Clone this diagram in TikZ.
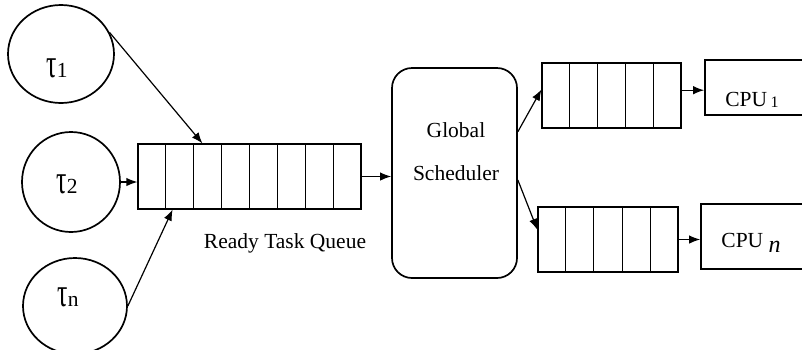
\documentclass[tikz,border=0pt]{standalone}
\usepackage{fontspec}
\setmainfont{Liberation Serif}
\usetikzlibrary{arrows.meta,calc,shapes.geometric}
\newcommand{\tautall}{\scalebox{1.2}[1.9]{τ}}
\begin{document}
\begin{tikzpicture}[x=1pt,y=-1pt,
  every node/.style={font=\fontsize{21.5}{24}\selectfont},
  task/.style={draw,ellipse,line width=1.7pt,inner sep=0pt},
  queuebox/.style={draw,line width=1.2pt,inner sep=0pt,minimum height=65pt},
  cpubox/.style={draw,line width=1.7pt,inner sep=0pt,minimum width=200pt},
  arr/.style={line width=1.2pt,-{Latex[length=11pt,width=8.5pt]}},
  lbl/.style={inner sep=0pt}]
\useasboundingbox (0,0) rectangle (802,349);
\clip (0,0) rectangle (802,349);

% task circles
\node[task,minimum width=106pt,minimum height=98pt] (t1) at (61,54) {};
\node[task,minimum width=98pt,minimum height=100pt] (t2) at (71,182) {};
\node[task,minimum width=104pt,minimum height=96pt] (tn) at (75,306) {};
\node[lbl,anchor=base] (t1l) at (57,77) {\tautall1};
\node[lbl,anchor=base] (t2l) at (67,193) {\tautall2};
\node[lbl,anchor=base] (tnl) at (68,306) {\tautall n};

% ready task queue with eight slots
\node[queuebox,minimum width=223pt] (q) at (249.5,176.5) {};
\foreach \i in {1,...,7}
  \draw[line width=1.2pt] ($(q.north west)!\i/8!(q.north east)$) -- ($(q.south west)!\i/8!(q.south east)$);
\node[lbl] (ql) at (285,243) {Ready Task Queue};

% global scheduler
\node[draw,line width=1.7pt,rounded corners=20pt,minimum width=125pt,minimum height=210pt] (gs) at (454.5,173) {};
\node[lbl] (gs1) at (456,130) {Global};
\node[lbl] (gs2) at (456,173) {Scheduler};

% per-processor queues
\node[queuebox,minimum width=139pt] (uq) at (611.5,95.5) {};
\foreach \i in {1,...,4}
  \draw[line width=1.2pt] ($(uq.north west)!\i/5!(uq.north east)$) -- ($(uq.south west)!\i/5!(uq.south east)$);
\node[queuebox,minimum width=140pt] (lq) at (608,239.5) {};
\foreach \i in {1,...,4}
  \draw[line width=1.2pt] ($(lq.north west)!\i/5!(lq.north east)$) -- ($(lq.south west)!\i/5!(lq.south east)$);

% processors
\node[cpubox,minimum height=55pt] (c1) at (805,87.5) {};
\node[cpubox,minimum height=65pt] (cn) at (801,236.5) {};
\node[lbl] (c1l) at (752,100) {CPU\,\raisebox{-1.5pt}{\fontsize{16}{16}\selectfont 1}};
\node[lbl] (cnl) at (751,243) {CPU\ \raisebox{-5pt}{\fontsize{24}{24}\selectfont\textit{n}}};

% connection points
\coordinate (qa) at ($(q.north west)!0.29!(q.north east)$);
\coordinate (qb) at ($(q.south west)!0.157!(q.south east)$);
\coordinate (gu) at ($(gs.north east)!0.305!(gs.south east)$);
\coordinate (gd) at ($(gs.north east)!0.533!(gs.south east)$);
\coordinate (ua) at ($(uq.north west)!0.41!(uq.south west)$);
\coordinate (la) at ($(lq.north west)!0.354!(lq.south west)$);
\coordinate (ub) at ($(uq.north east)!0.42!(uq.south east)$);

% arrows
\draw[arr] (t1.24) -- (qa);
\draw[arr] (t2.east) -- (t2.east -| q.west);
\draw[arr] (tn.east) -- (qb);
\draw[arr] (q.east) -- (q.east -| gs.west);
\draw[arr] (gu) -- (ua);
\draw[arr] (gd) -- (la);
\draw[arr] (ub) -- (ub -| c1.west);
\draw[arr] (lq.east) -- (lq.east -| cn.west);
\end{tikzpicture}
\end{document}
